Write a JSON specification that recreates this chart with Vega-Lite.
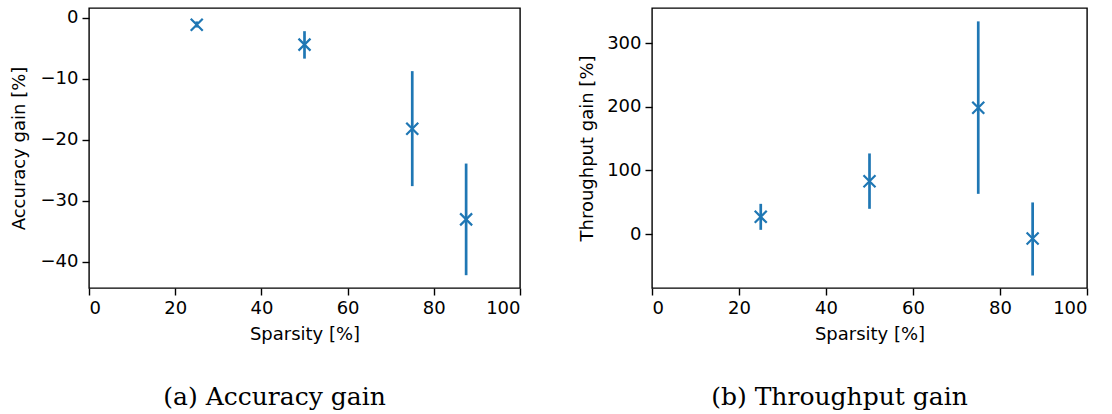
{
  "$schema": "https://vega.github.io/schema/vega-lite/v6.json",
  "padding": {"left": 9, "top": 7, "right": 5, "bottom": 5},
  "bounds": "flush",
  "spacing": 132,
  "background": "white",
  "datasets": {
    "acc": [
      {"sparsity": 25, "mean": -1.14, "lo": -1.6, "hi": -0.6},
      {"sparsity": 50, "mean": -4.4, "lo": -6.7, "hi": -2.2},
      {"sparsity": 75, "mean": -18.2, "lo": -27.6, "hi": -8.75},
      {"sparsity": 87.5, "mean": -33.05, "lo": -42.2, "hi": -23.9}
    ],
    "thr": [
      {"sparsity": 25, "mean": 27.2, "lo": 6.8, "hi": 47.6},
      {"sparsity": 50, "mean": 83.2, "lo": 39.8, "hi": 126.7},
      {"sparsity": 75, "mean": 198.4, "lo": 63.3, "hi": 334},
      {"sparsity": 87.5, "mean": -6.8, "lo": -64.9, "hi": 49.8}
    ]
  },
  "config": {
    "font": "DejaVu Sans",
    "view": {"stroke": "#000000", "strokeWidth": 1.4},
    "axis": {
      "grid": false,
      "domain": false,
      "tickSize": 7,
      "tickWidth": 1.4,
      "tickColor": "#000000",
      "labelFont": "DejaVu Sans",
      "labelFontSize": 18,
      "labelColor": "#000000",
      "labelPadding": 4,
      "titleFont": "DejaVu Sans",
      "titleFontSize": 18,
      "titleFontWeight": "normal",
      "titleColor": "#000000"
    }
  },
  "hconcat": [
    {
      "width": 431,
      "height": 280,
      "data": {"name": "acc"},
      "title": {"text": "(a) Accuracy gain", "orient": "bottom", "font": "DejaVu Serif", "fontSize": 25, "fontWeight": "normal", "color": "#000000", "dx": -30, "offset": 42},
      "layer": [
        {
          "mark": {"type": "rule", "color": "#1f77b4", "strokeWidth": 2.7},
          "encoding": {
            "x": {"field": "sparsity", "type": "quantitative", "scale": {"domain": [0, 100], "nice": false}, "axis": {"values": [0, 20, 40, 60, 80, 100], "title": "Sparsity [%]", "titlePadding": 8}},
            "y": {"field": "lo", "type": "quantitative", "scale": {"domain": [-44.3, 1.6], "nice": false, "zero": false}, "axis": {"values": [-40, -30, -20, -10, 0], "title": "Accuracy gain [%]", "titlePadding": 12}},
            "y2": {"field": "hi"}
          }
        },
        {
          "mark": {"type": "point", "shape": "M-1,-1L1,1M-1,1L1,-1", "filled": false, "color": "#1f77b4", "strokeWidth": 2.2, "size": 144, "opacity": 1},
          "encoding": {
            "x": {"field": "sparsity", "type": "quantitative"},
            "y": {"field": "mean", "type": "quantitative", "axis": {"title": "Accuracy gain [%]"}}
          }
        }
      ]
    },
    {
      "width": 435,
      "height": 280,
      "data": {"name": "thr"},
      "title": {"text": "(b) Throughput gain", "orient": "bottom", "font": "DejaVu Serif", "fontSize": 25, "fontWeight": "normal", "color": "#000000", "dx": -30, "offset": 42},
      "layer": [
        {
          "mark": {"type": "rule", "color": "#1f77b4", "strokeWidth": 2.7},
          "encoding": {
            "x": {"field": "sparsity", "type": "quantitative", "scale": {"domain": [0, 100], "nice": false}, "axis": {"values": [0, 20, 40, 60, 80, 100], "title": "Sparsity [%]", "titlePadding": 8}},
            "y": {"field": "lo", "type": "quantitative", "scale": {"domain": [-84.5, 355], "nice": false, "zero": false}, "axis": {"values": [0, 100, 200, 300], "title": "Throughput gain [%]", "titlePadding": 10}},
            "y2": {"field": "hi"}
          }
        },
        {
          "mark": {"type": "point", "shape": "M-1,-1L1,1M-1,1L1,-1", "filled": false, "color": "#1f77b4", "strokeWidth": 2.2, "size": 144, "opacity": 1},
          "encoding": {
            "x": {"field": "sparsity", "type": "quantitative"},
            "y": {"field": "mean", "type": "quantitative", "axis": {"title": "Throughput gain [%]"}}
          }
        }
      ]
    }
  ]
}
